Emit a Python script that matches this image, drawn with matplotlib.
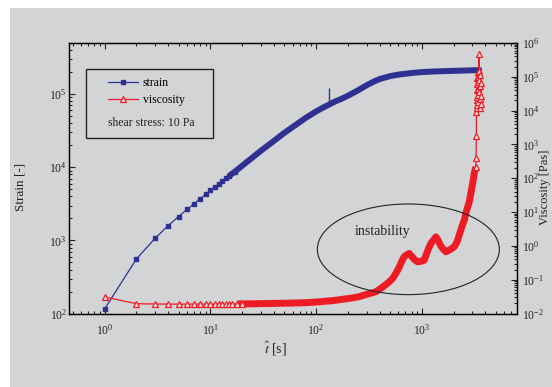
import matplotlib
matplotlib.use("Agg")
import numpy as np
import matplotlib.pyplot as plt
from matplotlib.lines import Line2D
from matplotlib.patches import Ellipse, Rectangle

plt.rcParams["font.family"] = ["Liberation Serif", "DejaVu Serif"]
plt.rcParams["mathtext.fontset"] = "stix"

# strain vs time
t_strain = [1, 2, 3, 4, 5, 6, 7, 8, 9, 10, 11, 12, 13, 14, 15, 17, 20, 25, 30,
            40, 50, 60, 80, 100, 120, 133, 150, 170, 200, 250, 300, 350, 400,
            500, 600, 700, 850, 1000, 1300, 1600, 2000, 2500, 3000, 3400, 3670]
strain = [116, 560, 1070, 1600, 2120, 2650, 3170, 3720, 4250, 4830, 5370, 5900,
          6550, 7050, 7590, 8700, 10500, 13600, 16800, 23000, 29500, 35500,
          47500, 58000, 67000, 72000, 79000, 85000, 95000, 113000, 132000,
          148000, 161000, 176000, 185000, 190000, 196000, 200000, 204000,
          206000, 208000, 210000, 212000, 213000, 212000]
# single glitch in the strain record
spike_t = [133]
spike_lo = [72000]
spike_hi = [122000]

# viscosity vs time
t_visc = [1, 2, 3, 4, 5, 6, 7, 8, 9, 10, 11, 12, 13, 14, 15, 16, 18, 20, 25,
          30, 40, 60, 80, 100, 140, 178, 220, 256, 300, 368, 430, 492, 530,
          569, 600, 634, 660, 682, 720, 760, 800, 850, 912, 980, 1054, 1100,
          1160, 1219, 1290, 1360, 1420, 1500, 1574, 1690, 1850, 2025, 2150,
          2258, 2400, 2520, 2650, 2810, 2950, 3060, 3150, 3245, 3260, 3280,
          3290, 3300, 3310, 3320, 3330, 3340, 3350, 3360, 3370, 3380, 3390,
          3400, 3410, 3420, 3440, 3460, 3480, 3500, 3520, 3540, 3560, 3580,
          3600, 3620, 3640]
visc = [0.031, 0.0196, 0.0192, 0.0191, 0.0190, 0.0190, 0.0191, 0.0190, 0.0191,
        0.0191, 0.0192, 0.0191, 0.0192, 0.0192, 0.0193, 0.0193, 0.0194, 0.0194,
        0.0195, 0.0197, 0.0200, 0.0205, 0.0210, 0.0220, 0.0240, 0.0264, 0.029,
        0.0317, 0.037, 0.0443, 0.062, 0.087, 0.11, 0.155, 0.21, 0.305, 0.40,
        0.48, 0.55, 0.60, 0.50, 0.40, 0.34, 0.35, 0.38, 0.55, 0.85, 1.19, 1.5,
        1.85, 1.5, 1.05, 0.84, 0.67, 0.78, 0.94, 1.3, 2.08, 3.8, 5.77, 11.0,
        20.0, 45.0, 87.0, 150.0, 216.0, 410.0, 1740.0,
        9000, 20000, 12000, 40000, 15000, 60000, 25000, 90000, 30000, 18000,
        70000, 140000, 45000, 100000, 150000, 35000, 460000, 80000, 22000,
        55000, 12000, 110000, 28000, 65000, 16000]

blue = "#2e3192"
red = "#ed1c24"
grey = "#d3d4d6"
ink = "#222222"

fig = plt.figure(figsize=(5.52, 3.87), dpi=100, facecolor="white")
fig.patches.append(Rectangle((10 / 552, 0), 1, 379 / 387, transform=fig.transFigure,
                             facecolor=grey, edgecolor="none", zorder=-10))
ax = fig.add_axes([69 / 552, 73.4 / 387, 447.7 / 552, 270.6 / 387])
ax.set_facecolor(grey)
ax2 = ax.twinx()

# strain (left axis): separate markers early, dense band later
ts = np.array(t_strain)
ss = np.array(strain)
band = ts >= 15
ax.plot(ts[band], ss[band], color=blue, lw=4.3, solid_capstyle="butt", zorder=2)
ax.vlines(spike_t, spike_lo, spike_hi, color=blue, lw=1.0, zorder=2)
ax.plot(ts, ss, color=blue, lw=0.9, marker="s", ms=3, mec=blue, mfc=blue,
        markevery=list(np.where(ts <= 17)[0]), zorder=3)

# viscosity (right axis)
tv = np.array(t_visc)
vv = np.array(visc)
vband = (tv >= 18) & (tv <= 3245)
ax2.plot(tv[vband], vv[vband], color=red, lw=5, solid_capstyle="butt", zorder=2)
ax2.plot(tv, vv, color=red, lw=0.9, marker="^", ms=4.5, mec=red, mew=0.9,
         mfc="#fde6e6", markevery=list(np.where((tv <= 20) | (tv >= 3245))[0]),
         zorder=3)

ax.set_xscale("log")
ax.set_yscale("log")
ax2.set_yscale("log")
ax.set_xlim(0.46, 7900)
ax.set_ylim(100, 5e5)
ax2.set_ylim(1e-2, 1e6)

ax2.yaxis.set_major_locator(matplotlib.ticker.LogLocator(base=10, numticks=20))
ax2.yaxis.set_minor_locator(matplotlib.ticker.LogLocator(base=10, subs=np.arange(2, 10), numticks=20))

for a in (ax, ax2):
    for s in a.spines.values():
        s.set_linewidth(0.9)
ax.tick_params(which="both", direction="in", top=True, right=False,
               labelsize=8.4, colors=ink, width=0.8)
ax.tick_params(which="major", length=4.5)
ax.tick_params(which="minor", length=2.3)
ax.tick_params(axis="x", pad=6.5)
ax.tick_params(axis="y", pad=1.5)
ax2.tick_params(which="both", direction="in", labelsize=8.4, colors=ink,
                width=0.8, pad=4)
ax2.tick_params(which="major", length=4.5)
ax2.tick_params(which="minor", length=2.3)

ax.set_xlabel(r"$\hat{t}$ [s]", fontsize=10, color=ink)
ax.xaxis.set_label_coords(0.462, -0.095)
ax.set_ylabel("Strain [-]", fontsize=9.5, color=ink)
ax.yaxis.set_label_coords(-0.094, 0.468)
ax2.set_ylabel("Viscosity [Pas]", fontsize=9, color=ink)
ax2.yaxis.set_label_coords(1.05, 0.468)

# legend box with note
ax.add_patch(Rectangle((0.038, 0.649), 0.283, 0.254, transform=ax.transAxes,
                       facecolor="none", edgecolor=ink, lw=1.0, zorder=5))
h_strain = Line2D([], [], color=blue, lw=0.9, marker="s", ms=3, mfc=blue)
h_visc = Line2D([], [], color=red, lw=0.9, marker="^", ms=4.5, mew=0.9,
                mfc="#fde6e6")
ax.legend([h_strain, h_visc], ["strain", "viscosity"], loc="upper left",
          bbox_to_anchor=(0.087, 0.875), frameon=False, borderaxespad=0,
          borderpad=0, handlelength=2.55, handletextpad=0.4, labelspacing=0.45,
          numpoints=1, fontsize=8.5)
ax.text(0.087, 0.704, "shear stress: 10 Pa", transform=ax.transAxes,
        fontsize=8.5, va="center", ha="left", color=ink)

# instability annotation
ax2.add_patch(Ellipse((0.758, 0.2376), 0.4065, 0.335, transform=ax2.transAxes,
                      facecolor="none", edgecolor=ink, lw=0.8, zorder=4))
ax2.text(0.7007, 0.3027, "instability", transform=ax2.transAxes, fontsize=10,
         ha="center", va="center", color=ink)

fig.savefig("out.png", dpi=100, facecolor="white")
